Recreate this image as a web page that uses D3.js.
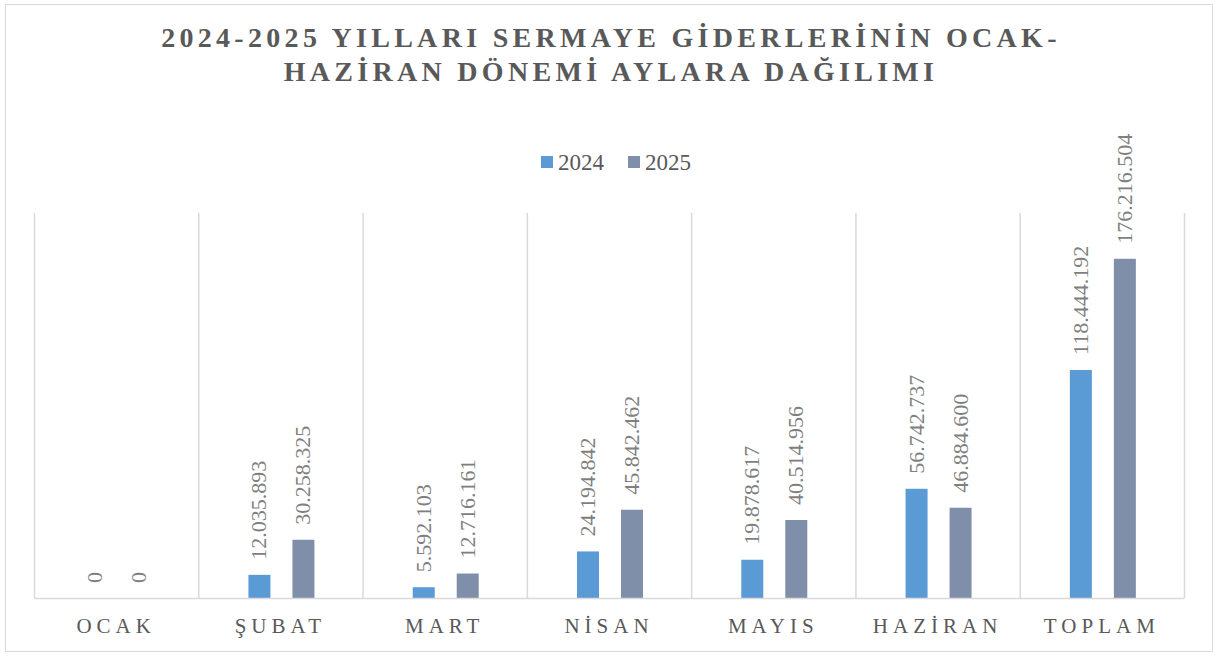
<!DOCTYPE html>
<html lang="tr">
<head>
  <meta charset="UTF-8">
  <title>Sermaye Giderleri 2024-2025</title>
  <script src="https://cdn.jsdelivr.net/npm/d3@7"></script>
  <style>
    body { margin: 0; background: #fff; }
  </style>
</head>
<body>
  <div id="chart"></div>
  <script>
    // data
    const months = ['OCAK', 'ŞUBAT', 'MART', 'NİSAN', 'MAYIS', 'HAZİRAN', 'TOPLAM'];
    const years = ['2024', '2025'];
    const values2024 = [0, 12035893, 5592103, 24194842, 19878617, 56742737, 118444192];
    const values2025 = [0, 30258325, 12716161, 45842462, 40514956, 46884600, 176216504];
    const titleLines = ['2024-2025 YILLARI SERMAYE GİDERLERİNİN OCAK-', 'HAZİRAN DÖNEMİ AYLARA DAĞILIMI'];

    const W = 1215, H = 657;
    const FONT = "'Liberation Serif', 'Times New Roman', Times, serif";
    const colors = { '2024': '#5B9BD5', '2025': '#7F8FA9' };
    const margin = { top: 213, right: 31, bottom: 59, left: 34 };
    const innerW = W - margin.left - margin.right;
    const innerH = H - margin.top - margin.bottom;

    const rows = months.map((m, i) => ({ month: m, '2024': values2024[i], '2025': values2025[i] }));

    const svg = d3.select('#chart').append('svg')
      .attr('width', W)
      .attr('height', H)
      .style('font-family', FONT);

    // chart border
    svg.append('rect')
      .attr('x', 5.5).attr('y', 4.5)
      .attr('width', 1207).attr('height', 647)
      .attr('fill', '#fff')
      .attr('stroke', '#d9d9d9')
      .attr('stroke-width', 1);

    // title
    svg.append('g').selectAll('text')
      .data(titleLines)
      .join('text')
      .attr('x', 611)
      .attr('y', (d, i) => 47 + i * 34)
      .attr('text-anchor', 'middle')
      .style('font-family', FONT)
      .attr('font-size', 28)
      .attr('font-weight', 'bold')
      .attr('letter-spacing', 4.3)
      .attr('fill', '#595959')
      .text(d => d);

    // legend
    const legend = svg.append('g').attr('transform', 'translate(541,156)');
    const legendItem = legend.selectAll('g')
      .data(years)
      .join('g')
      .attr('transform', (d, i) => `translate(${i * 87},0)`);
    legendItem.append('rect')
      .attr('width', 12).attr('height', 12)
      .attr('fill', d => colors[d]);
    legendItem.append('text')
      .attr('x', 17).attr('y', 14)
      .style('font-family', FONT)
      .attr('font-size', 23)
      .attr('fill', '#595959')
      .text(d => d);

    const g = svg.append('g').attr('transform', `translate(${margin.left},${margin.top})`);

    const x0 = d3.scaleBand().domain(months).range([0, innerW]).padding(0);
    const x1 = d3.scaleBand().domain(years)
      .range([x0.bandwidth() / 2 - 32, x0.bandwidth() / 2 + 34])
      .paddingInner(0.5).paddingOuter(0);
    const y = d3.scaleLinear().domain([0, 200000000]).range([innerH, 0]);

    // vertical category gridlines
    const edges = months.map(m => x0(m)).concat([innerW]);
    g.append('g').selectAll('line')
      .data(edges)
      .join('line')
      .attr('x1', d => d + 0.5).attr('x2', d => d + 0.5)
      .attr('y1', 0).attr('y2', innerH)
      .attr('stroke', '#d9d9d9')
      .attr('stroke-width', 1.5);

    // bars
    const groups = g.append('g').selectAll('g')
      .data(rows)
      .join('g')
      .attr('transform', d => `translate(${x0(d.month)},0)`);

    groups.selectAll('rect')
      .data(d => years.map(k => ({ key: k, value: d[k] })))
      .join('rect')
      .attr('x', d => x1(d.key))
      .attr('width', x1.bandwidth())
      .attr('y', d => y(d.value))
      .attr('height', d => innerH - y(d.value))
      .attr('fill', d => colors[d.key]);

    // rotated value labels
    const fmt = v => v.toLocaleString('de-DE');
    groups.selectAll('text')
      .data(d => years.map(k => ({ key: k, value: d[k] })))
      .join('text')
      .attr('transform', d => `translate(${x1(d.key) + x1.bandwidth() / 2 + 7},${y(d.value) - 15}) rotate(-90)`)
      .style('font-family', FONT)
      .attr('font-size', 22)
      .attr('fill', '#7f7f7f')
      .text(d => fmt(d.value));

    // x axis
    const xAxis = g.append('g')
      .attr('transform', `translate(0,${innerH})`)
      .call(d3.axisBottom(x0).tickSize(0).tickPadding(20));
    xAxis.select('.domain').attr('stroke', '#d9d9d9').attr('stroke-width', 1.5);
    xAxis.selectAll('text')
      .style('font-family', FONT)
      .attr('font-size', 21)
      .attr('letter-spacing', 5)
      .attr('fill', '#595959')
      .attr('dy', '0.71em');
  </script>
</body>
</html>
